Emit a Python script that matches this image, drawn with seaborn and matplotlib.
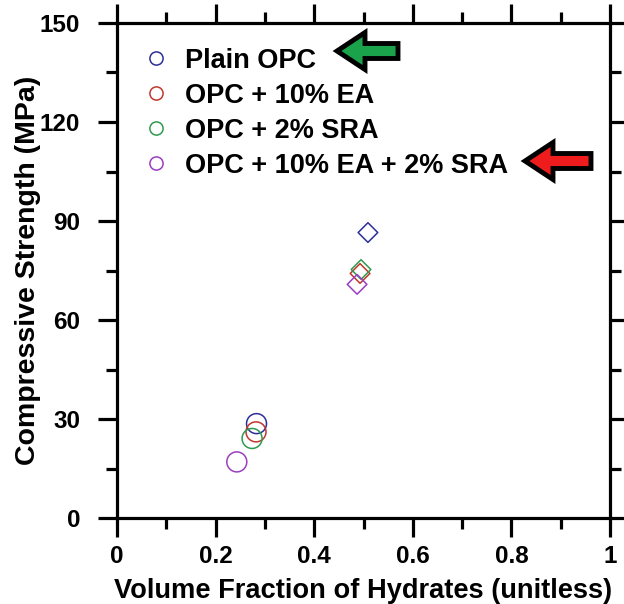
import matplotlib
matplotlib.use("Agg")
import matplotlib.pyplot as plt
from matplotlib.lines import Line2D
from matplotlib.patches import FancyArrow
from matplotlib.ticker import MultipleLocator
import seaborn as sns
import pandas as pd

# ---- data ----
mixes = ["Plain OPC", "OPC + 10% EA", "OPC + 2% SRA", "OPC + 10% EA + 2% SRA"]
colors = ["#2d2f96", "#c0392b", "#2f9a4f", "#9a3fbf"]
early_x = [0.283, 0.282, 0.274, 0.243]
early_y = [28.6, 26.1, 24.1, 17.0]
late_x = [0.509, 0.493, 0.495, 0.487]
late_y = [86.5, 74.1, 75.3, 70.8]
xtick_labels = ["0", "0.2", "0.4", "0.6", "0.8", "1"]

rows = []
for m, x, y in zip(mixes, early_x, early_y):
    rows.append({"mix": m, "age": "early", "x": x, "y": y})
for m, x, y in zip(mixes, late_x, late_y):
    rows.append({"mix": m, "age": "late", "x": x, "y": y})
df = pd.DataFrame(rows)

sns.set_theme(style="ticks")
plt.rcParams["font.family"] = ["Liberation Sans", "DejaVu Sans"]
plt.rcParams["font.weight"] = "bold"
plt.rcParams["text.color"] = "black"
plt.rcParams["axes.labelcolor"] = "black"

fig = plt.figure(figsize=(6.24, 6.04), dpi=100)
ax = fig.add_axes([117 / 624, 1 - 518 / 604, 493 / 624, 495 / 604])

pal = dict(zip(mixes, colors))
for age, marker, size in [("early", "o", 207), ("late", "D", 100)]:
    sub = df[df["age"] == age]
    sns.scatterplot(data=sub, x="x", y="y", hue="mix", palette=pal,
                    marker=marker, s=size, ax=ax, legend=False, linewidth=1.1)
for coll in ax.collections:
    fc = coll.get_facecolors()
    coll.set_edgecolors(fc)
    coll.set_facecolors("none")

ax.set_xlim(0, 1)
ax.set_ylim(0, 150)
ax.xaxis.set_minor_locator(MultipleLocator(0.1))
ax.yaxis.set_major_locator(MultipleLocator(30))
ax.yaxis.set_minor_locator(MultipleLocator(15))
ax.set_xticks([0, 0.2, 0.4, 0.6, 0.8, 1.0])
ax.set_xticklabels(xtick_labels)

for s in ax.spines.values():
    s.set_linewidth(2.3)
    s.set_color("black")
ax.tick_params(which="both", direction="out", top=True, right=True,
               width=2.3, color="black", labelsize=17.5, labelcolor="black")
ax.tick_params(which="major", length=13.5)
ax.tick_params(which="minor", length=8)
ax.tick_params(axis="y", pad=13)
ax.tick_params(axis="x", pad=6)
for lab in ax.get_xticklabels() + ax.get_yticklabels():
    lab.set_fontweight("bold")

ax.set_xlabel("Volume Fraction of Hydrates (unitless)", fontsize=19.6, fontweight="bold",
              color="black", labelpad=7)
ax.set_ylabel("Compressive Strength (MPa)", fontsize=20.5, fontweight="bold",
              color="black", labelpad=-1)

handles = [Line2D([], [], linestyle="none", marker="o", markersize=9.5,
                  markerfacecolor="none", markeredgecolor=c, markeredgewidth=1.1)
           for c in colors]
leg = ax.legend(handles, mixes, loc="upper left", bbox_to_anchor=(0.002, 0.999),
                frameon=False, handlelength=1.0, handletextpad=0.56,
                labelspacing=0.33, prop={"weight": "bold", "size": 19.5})
for t in leg.get_texts():
    t.set_color("black")

def arrow(x_tip, x_tail, y, fcol):
    W, H = 624, 604
    a = FancyArrow(x_tail / W, 1 - y / H, (x_tip - x_tail) / W, 0,
                   width=15 / H, head_width=37 / H, head_length=28 / W,
                   length_includes_head=True, transform=fig.transFigure,
                   facecolor=fcol, edgecolor="black", linewidth=3.5, joinstyle="miter")
    fig.patches.append(a)

arrow(337, 398, 51, "#1aa34a")
arrow(525, 591, 161, "#ee1c1c")

fig.savefig("out.png", dpi=100)
